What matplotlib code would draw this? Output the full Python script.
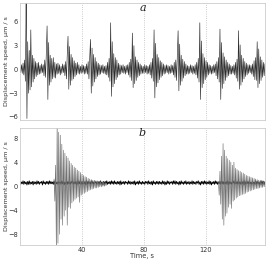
import numpy as np
import matplotlib.pyplot as plt

dt = 0.5  # sampling step, s

# panel a: displacement speed, um/s (one row = 10 s)
speed_a = [
    0.3, -0.4, 0.6, -0.5, 0.8, -0.7, 1.2, -1.5, 9.0, -6.2, 3.5, -3.0, 2.4, -2.6, 5.0, -2.2, 1.8, -1.6, 1.4, -1.2,
    1.0, -0.9, 0.8, -0.7, 0.9, -0.6, 0.5, -0.5, 0.7, -0.4, 0.6, -0.8, 1.2, -1.0, 2.0, 5.5, -3.8, 3.4, -2.0, 1.8,
    -1.6, 1.4, -1.2, 1.5, -1.0, 0.9, -1.1, 0.7, -0.6, 0.8, -0.5, 0.6, -0.7, 0.4, -0.5, 0.7, -0.4, 0.6, -0.8, 1.0,
    -1.2, 1.8, 4.2, -2.5, 2.9, -2.0, 1.9, -1.4, 1.5, -1.2, 1.1, -0.9, 0.8, -0.7, 0.9, -0.5, 0.6, -0.6, 0.4, -0.5,
    0.6, -0.4, 0.5, -0.6, 0.4, -0.5, 0.7, -0.6, 1.0, -1.2, 1.5, 3.8, -3.0, 2.7, -2.1, 1.9, -1.6, 1.5, -1.2, 1.0,
    -0.9, 0.8, -0.7, 0.6, -0.6, 0.5, -0.4, 0.6, -0.5, 0.4, -0.6, 0.5, -0.7, 0.9, -1.0, 1.4, -1.5, 5.9, -3.4, 3.5,
    -2.2, 2.0, -1.8, 1.5, -1.3, 1.2, -1.0, 0.8, -0.7, 0.6, -0.6, 0.5, -0.4, 0.6, -0.5, 0.4, -0.6, 0.5, -0.4, 0.6,
    -0.7, 0.9, -1.0, 1.3, -1.4, 4.6, -2.3, 3.0, -1.8, 1.6, -1.4, 1.2, -1.0, 0.9, -0.8, 0.7, -0.6, 0.5, -0.5, 0.4,
    -0.5, 0.6, -0.4, 0.5, -0.6, 0.4, -0.5, 0.6, -0.7, 0.9, -1.1, 1.4, -1.5, 5.0, -3.6, 3.3, -2.2, 1.9, -1.7, 1.5,
    -1.3, 1.1, -1.0, 0.9, -0.8, 0.7, -0.6, 0.5, -0.5, 0.6, -0.4, 0.5, -0.6, 0.4, -0.5, 0.6, -0.4, 0.5, -0.7, 0.9,
    -1.0, 1.2, -1.4, 1.6, 4.9, -2.7, 3.2, -2.0, 1.8, -1.5, 1.3, -1.1, 1.0, -0.8, 0.7, -0.6, 0.5, -0.6, 0.4, -0.5,
    0.6, -0.4, 0.5, -0.6, 0.4, -0.5, 0.6, -0.7, 0.9, -1.1, 1.4, -1.6, 5.9, -3.8, 3.6, -2.3, 2.0, -1.8, 1.5, -1.3,
    1.1, -1.0, 0.9, -0.7, 0.6, -0.5, 0.5, -0.6, 0.4, -0.5, 0.6, -0.4, 0.7, -0.8, 1.0, -1.2, 1.5, -1.6, 5.1, -3.8,
    3.4, -2.4, 2.1, -1.8, 1.6, -1.4, 1.2, -1.0, 0.9, -0.8, 0.7, -0.6, 0.5, -0.6, 0.4, -0.5, 0.6, -0.7, 0.9, -1.1,
    1.3, -1.5, 4.9, -2.5, 3.1, -2.0, 1.8, -1.6, 1.4, -1.2, 1.0, -0.9, 0.8, -0.7, 0.6, -0.5, 0.6, -0.4, 0.5, -0.6,
    0.7, -0.9, 1.1, -1.3, 1.5, -1.4, 3.5, -2.3, 2.6, -1.8, 1.6, -1.4, 1.2, -1.0, 0.9, -0.8, 0.7,
]

# panel b: quiet background record (black)
base_b = [
    0.8, 0.3, 0.7, 0.4, 0.9, 0.3, 0.8, 0.4, 0.7, 0.2, 0.8, 0.3, 0.9, 0.3, 0.7, 0.4, 0.8, 0.2, 0.8, 0.4,
    0.7, 0.3, 0.9, 0.4, 0.8, 0.3, 0.7, 0.5, 0.8, 0.2, 0.9, 0.4, 0.7, 0.3, 0.8, 0.4, 0.8, 0.3, 0.9, 0.4,
    0.8, 0.4, 0.7, 0.3, 0.9, 0.3, 0.8, 0.4, 0.7, 0.3, 0.8, 0.5, 0.7, 0.3, 0.9, 0.4, 0.8, 0.2, 0.7, 0.4,
    0.9, 0.3, 0.8, 0.4, 0.7, 0.3, 0.8, 0.5, 0.9, 0.3, 0.7, 0.4, 0.8, 0.2, 0.8, 0.3, 0.9, 0.4, 0.7, 0.3,
    0.8, 0.3, 0.7, 0.4, 0.8, 0.2, 0.9, 0.3, 0.8, 0.4, 0.7, 0.3, 0.9, 0.4, 0.8, 0.3, 0.7, 0.5, 0.8, 0.3,
    0.7, 0.4, 0.8, 0.3, 0.9, 0.4, 0.7, 0.2, 0.8, 0.3, 0.8, 0.4, 0.9, 0.3, 0.7, 0.4, 0.8, 0.3, 0.9, 0.4,
    0.8, 0.3, 0.9, 0.4, 0.7, 0.3, 0.8, 0.4, 0.8, 0.2, 0.9, 0.3, 0.7, 0.4, 0.8, 0.3, 0.8, 0.5, 0.7, 0.3,
    0.9, 0.4, 0.8, 0.3, 0.7, 0.4, 0.8, 0.3, 0.9, 0.2, 0.7, 0.4, 0.8, 0.3, 0.9, 0.4, 0.7, 0.3, 0.8, 0.4,
    0.7, 0.3, 0.8, 0.5, 0.8, 0.3, 0.9, 0.4, 0.7, 0.3, 0.8, 0.2, 0.9, 0.4, 0.7, 0.3, 0.8, 0.4, 0.8, 0.3,
    0.8, 0.4, 0.7, 0.3, 0.9, 0.4, 0.8, 0.2, 0.7, 0.3, 0.9, 0.4, 0.8, 0.3, 0.7, 0.5, 0.8, 0.3, 0.9, 0.4,
    0.9, 0.3, 0.8, 0.4, 0.7, 0.2, 0.8, 0.3, 0.9, 0.4, 0.7, 0.3, 0.8, 0.4, 0.9, 0.3, 0.7, 0.4, 0.8, 0.3,
    0.7, 0.4, 0.9, 0.3, 0.8, 0.4, 0.7, 0.3, 0.8, 0.5, 0.9, 0.3, 0.7, 0.2, 0.8, 0.4, 0.8, 0.3, 0.9, 0.4,
    0.8, 0.3, 0.7, 0.4, 0.9, 0.3, 0.8, 0.2, 0.7, 0.4, 0.8, 0.3, 0.9, 0.4, 0.8, 0.3, 0.7, 0.4, 0.8, 0.3,
    0.9, 0.4, 0.8, 0.3, 0.7, 0.4, 0.8, 0.3, 0.9, 0.2, 0.8, 0.4, 0.7, 0.3, 0.8, 0.5, 0.9, 0.3, 0.7, 0.4,
    0.8, 0.3, 0.9, 0.4, 0.7, 0.3, 0.8, 0.4, 0.8, 0.2, 0.9, 0.3, 0.7, 0.4, 0.8, 0.3, 0.9, 0.4, 0.7, 0.3,
    0.8, 0.4, 0.7, 0.3, 0.9, 0.3, 0.8, 0.4, 0.7, 0.2, 0.8, 0.3, 0.9, 0.4, 0.8, 0.3, 0.7,
]

# panel b: the two events (grey)
burst1_start = 22.0
burst1 = [
    1.2, -2.5, 3.5, -11.0, 11.0, -9.5, 9.0, -8.0, 8.5, -5.5, 7.0, -6.5, 6.0, -5.0, 5.5, -4.0,
    5.0, -6.5, 4.7, -3.5, 4.2, -3.7, 3.8, -2.8, 3.5, -2.5, 3.2, -2.2, 3.0, -2.0, 2.7, -1.8, 2.5, -2.7, 2.3, -1.5,
    2.0, -1.3, 1.8, -1.2, 1.6, -1.0, 1.5, -0.9, 1.3, -0.7, 1.2, -0.6, 1.1, -0.5, 1.0, -0.4, 1.0, -0.3, 0.9, -0.3,
    0.9, -0.2, 0.8, -0.1, 0.8, -0.1, 0.7, 0.0, 0.7, 0.0, 0.6, 0.1, 0.5,
]
burst2_start = 128.0
burst2 = [
    0.8, -1.5, 2.5, -3.0,
    5.0, -5.5, 7.1, -6.5, 6.0, -5.0, 5.0, -4.5, 4.6, -3.5, 4.3, -3.0, 4.0, -3.7, 3.5, -2.5, 4.0, -2.3, 3.0, -2.0,
    2.8, -1.8, 2.6, -1.6, 2.5, -1.5, 2.3, -1.4, 2.2, -1.3, 2.0, -1.2, 1.8, -1.0, 1.7, -0.9, 1.6, -0.8, 1.5, -0.7,
    1.4, -0.6, 1.3, -0.5, 1.2, -0.4, 1.1, -0.4, 1.0, -0.3, 1.0, -0.2, 0.9, -0.2, 0.9, -0.1, 0.8,
]

t_a = np.arange(len(speed_a)) * dt
t_b = np.arange(len(base_b)) * dt
t_b1 = burst1_start + np.arange(len(burst1)) * dt
t_b2 = burst2_start + np.arange(len(burst2)) * dt

fig = plt.figure(figsize=(2.66, 2.61), dpi=100)
ax1 = fig.add_axes([0.075, 0.540, 0.921, 0.4485])
ax2 = fig.add_axes([0.075, 0.0613, 0.921, 0.4483])

ax1.plot(t_a, speed_a, color='#2a2a2a', lw=0.45)
ax2.plot(t_b, base_b, color='black', lw=0.6)
ax2.plot(t_b1, burst1, color='#707070', lw=0.45)
ax2.plot(t_b2, burst2, color='#707070', lw=0.45)

ax1.set_ylim(-6.4, 8.4)
ax1.set_yticks([-6, -3, 0, 3, 6])
ax2.set_ylim(-9.8, 9.7)
ax2.set_yticks([-8, -4, 0, 4, 8])

for ax, lab in [(ax1, 'a'), (ax2, 'b')]:
    ax.set_xlim(0, 158)
    ax.set_xticks([40, 80, 120])
    ax.grid(axis='x', color='#bbbbbb', ls=':', lw=0.6)
    ax.tick_params(length=0, labelsize=4.8, colors='#333333', pad=1.5)
    for s in ax.spines.values():
        s.set_color('#cccccc')
        s.set_linewidth(0.6)
    ax.set_ylabel('Displacement speed, \u03bcm / s', fontsize=4.6, color='#333333')
    ax.yaxis.set_label_coords(-0.045, 0.5)
    ax.text(0.5, 0.96, lab, transform=ax.transAxes, fontsize=8, style='italic',
            family='serif', ha='center', va='center', color='#222222')

ax1.set_xticklabels([])
ax2.set_xlabel('Time, s', fontsize=4.8, color='#333333')
ax2.xaxis.set_label_coords(0.5, -0.07)

fig.savefig('out.png', dpi=100)
